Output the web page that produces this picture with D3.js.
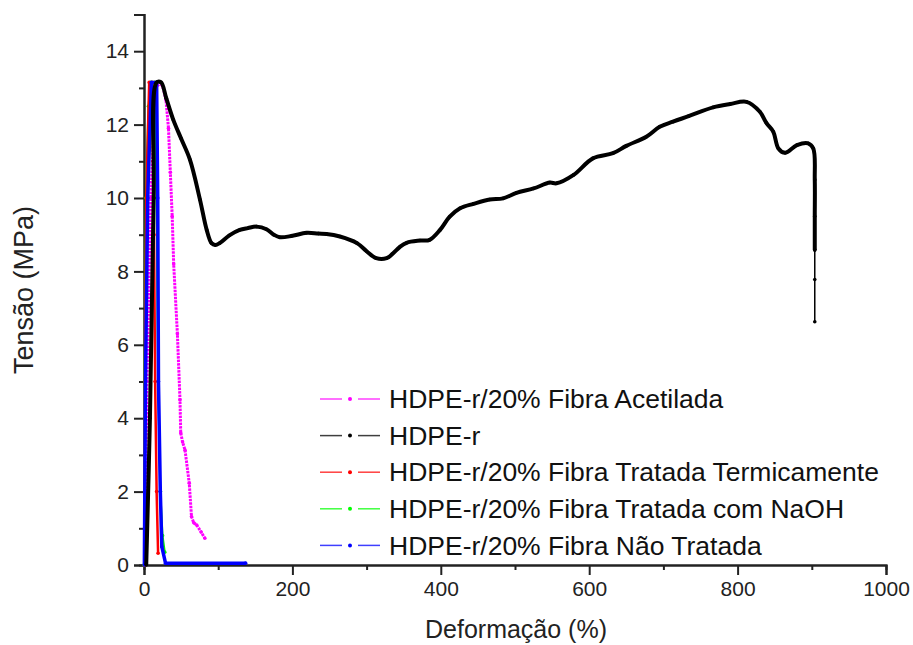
<!DOCTYPE html>
<html>
<head>
<meta charset="utf-8">
<script src="https://cdn.jsdelivr.net/npm/d3@7"></script>
<style>
    body { margin: 0; background: #fff; }
    svg { display: block; font-family: "Liberation Sans", Arial, sans-serif; }
</style>
</head>
<body>
<svg id="chart" width="913" height="645"></svg>
<script>
// curvas tensão x deformação, [deformação %, tensão MPa]
const hdpeR = [
    [3, 0], [8, 4], [13, 10], [17, 13.15], [23, 13.15], [30, 12.72], [39.5, 12.13], [50, 11.62],
    [62, 11.04], [75.5, 9.95], [84.5, 9.13], [91, 8.77], [96, 8.72], [102, 8.77], [115, 8.98],
    [129, 9.13], [140, 9.18], [152, 9.22], [165, 9.15], [175, 9.0], [183, 8.93], [200, 8.97],
    [219, 9.05], [235, 9.03], [246, 9.02], [264, 8.95], [287, 8.77], [300, 8.55], [313, 8.36],
    [327, 8.36], [335, 8.48], [345, 8.67], [354, 8.78], [372, 8.84], [385, 8.86], [399, 9.13],
    [412, 9.49], [426, 9.72], [444, 9.84], [466, 9.96], [484, 9.99], [502, 10.14], [525, 10.26],
    [547, 10.42], [556, 10.4], [579, 10.63], [605, 11.08], [632, 11.22], [650, 11.42], [677, 11.67],
    [695, 11.94], [713, 12.08], [734, 12.23], [767, 12.47], [790, 12.56], [812, 12.62], [830, 12.35],
    [839, 12.04], [848, 11.81], [855, 11.35], [864, 11.23], [880, 11.44], [895, 11.49], [902, 11.35],
    [904, 10.5], [904, 9.5], [904, 8.58]
];
// ruptura do HDPE-r (pontos espaçados)
const hdpeRTail = [[904, 8.58], [904, 7.78], [904, 6.63]];

const acetilada = [
    [1, 0], [4, 5], [9, 10], [16, 13.0], [22, 13.15], [26, 13.0], [29.6, 12.67], [33, 11.9],
    [35.5, 10.7], [38, 9.5], [40, 8.2], [45, 6.3], [48.5, 4.5], [49.5, 3.6], [52, 3.35],
    [55.3, 3.13], [61, 2.23], [64, 1.32], [67, 1.15], [71, 1.09], [77, 0.9], [82, 0.73]
];
const termica = [
    [0.5, 0], [1.5, 5], [3, 10], [7, 13.15], [11, 13.15], [12.5, 11], [13.5, 9], [15, 5],
    [17, 2], [19, 0.32]
];
const naoh = [
    [0, 0], [1, 5], [2.5, 10], [6, 12.5], [9, 13.15], [14, 13.15], [17, 10], [19, 5],
    [22, 2], [25, 0.8], [28, 0.35]
];
const naoTratada = [
    [0.5, 0], [2, 5], [5, 10], [10, 13.15], [17, 13.15], [18.5, 10], [19.5, 5], [22, 2],
    [24, 0.5], [29, 0.05], [137, 0.05]
];

const legendLabels = [
    'HDPE-r/20% Fibra Acetilada',
    'HDPE-r',
    'HDPE-r/20% Fibra Tratada Termicamente',
    'HDPE-r/20% Fibra Tratada com NaOH',
    'HDPE-r/20% Fibra Não Tratada'
];
const legendColors = ['#ff00ff', '#000000', '#ff0000', '#00ff00', '#0000ff'];

const xTicks = [0, 200, 400, 600, 800, 1000];
const yTicks = [0, 2, 4, 6, 8, 10, 12, 14];

const svg = d3.select('#chart');
const x = d3.scaleLinear().domain([0, 1000]).range([144, 886]);
const y = d3.scaleLinear().domain([0, 15]).range([565, 14.5]);

// eixos (só esquerda e baixo, como no Origin)
const xAxis = svg.append('g').attr('transform', `translate(0,${y(0)})`);
xAxis.call(d3.axisBottom(x).tickValues(d3.range(100, 1000, 200)).tickSize(5).tickFormat(''));
xAxis.call(g => g.append('g').call(d3.axisBottom(x).tickValues(xTicks).tickSize(10).tickPadding(6).tickFormat(d3.format('d'))));
const yAxis = svg.append('g').attr('transform', `translate(${x(0)},0)`);
yAxis.call(d3.axisLeft(y).tickValues(d3.range(1, 16, 2)).tickSize(5).tickFormat(''));
yAxis.call(g => g.append('g').call(d3.axisLeft(y).tickValues(yTicks).tickSize(10).tickPadding(5)));

svg.selectAll('.domain').attr('stroke', '#222').attr('stroke-width', 2);
svg.selectAll('.tick line').attr('stroke', '#222').attr('stroke-width', 2);
svg.selectAll('.tick text').attr('font-size', 21).attr('fill', '#222')
    .attr('font-family', '"Liberation Sans", Arial, sans-serif');

svg.append('text')
    .attr('x', 516).attr('y', 638)
    .attr('text-anchor', 'middle')
    .attr('font-size', 25).attr('fill', '#222')
    .text('Deformação (%)');
svg.append('text')
    .attr('transform', 'translate(33,290) rotate(-90)')
    .attr('text-anchor', 'middle')
    .attr('font-size', 27).attr('fill', '#222')
    .text('Tensão (MPa)');

const line = d3.line().x(d => x(d[0])).y(d => y(d[1]));
const smooth = d3.line().x(d => x(d[0])).y(d => y(d[1])).curve(d3.curveCatmullRom.alpha(0.5));

function drawSeries(data, color, width, dash, gen) {
    svg.append('path')
        .datum(data)
        .attr('fill', 'none')
        .attr('stroke', color)
        .attr('stroke-width', width)
        .attr('stroke-dasharray', dash || null)
        .attr('stroke-linejoin', 'round')
        .attr('d', gen || line);
    svg.append('g').selectAll('circle')
        .data(data)
        .join('circle')
        .attr('cx', d => x(d[0]))
        .attr('cy', d => y(d[1]))
        .attr('r', 1.8)
        .attr('fill', color);
}

drawSeries(acetilada, '#ff00ff', 3, '2.5 1');
drawSeries(naoh, '#00ee00', 2);
drawSeries(termica, '#ff0000', 2.5);
drawSeries(naoTratada, '#0000ff', 3.5);
drawSeries(hdpeR, '#000000', 4, null, smooth);
drawSeries(hdpeRTail, '#000000', 1.5);

// legenda
const legend = svg.append('g').attr('transform', 'translate(320,399)');
legendLabels.forEach((label, i) => {
    const row = legend.append('g').attr('transform', `translate(0,${i * 36.6})`);
    row.append('line').attr('x1', 0).attr('x2', 22).attr('stroke', legendColors[i]).attr('stroke-width', 1.5).attr('opacity', 0.75);
    row.append('line').attr('x1', 38).attr('x2', 60).attr('stroke', legendColors[i]).attr('stroke-width', 1.5).attr('opacity', 0.75);
    row.append('circle').attr('cx', 30).attr('r', 2).attr('fill', legendColors[i]);
    row.append('text')
        .attr('x', 69).attr('dy', '0.35em')
        .attr('font-size', 26.5).attr('fill', '#111')
        .text(label);
});
</script>
</body>
</html>
